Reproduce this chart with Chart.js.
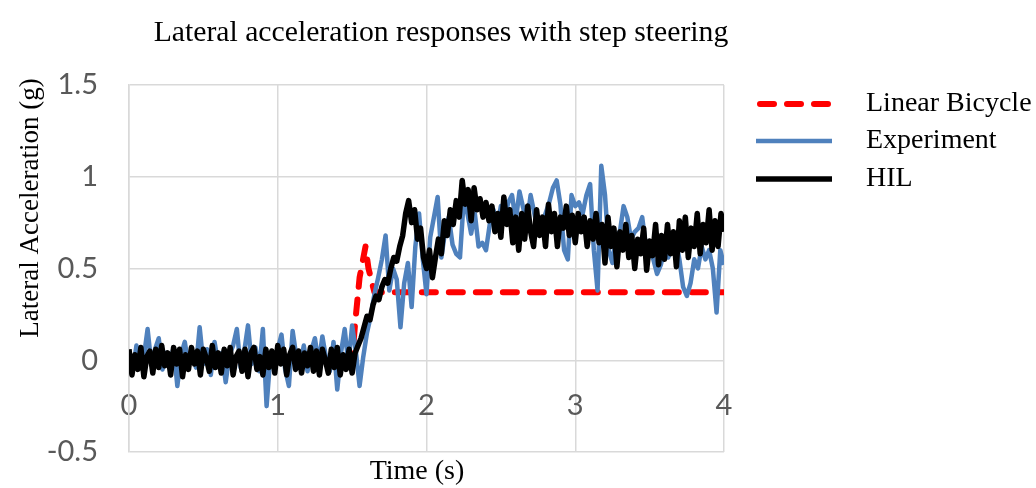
<!DOCTYPE html>
<html>
<head>
<meta charset="utf-8">
<script src="https://cdn.jsdelivr.net/npm/chart.js@4/dist/chart.umd.min.js"></script>
<style>
  html, body { margin: 0; padding: 0; background: #ffffff; }
  #wrap { width: 1036px; height: 488px; }
</style>
</head>
<body>
<div id="wrap"><canvas id="chart"></canvas></div>
<script>
// chart text
const TITLE = "Lateral acceleration responses with step steering";
const X_TITLE = "Time (s)";
const Y_TITLE = "Lateral Acceleration (g)";
const SERIES_NAMES = ["Linear Bicycle", "Experiment", "HIL"];

// linear bicycle model (time s, accel g)
const bicycleTime = [0, 1.5, 1.52, 1.55, 1.59, 1.61, 1.65, 4];
const bicycleAccel = [0, 0, 0.2, 0.45, 0.62, 0.5, 0.37, 0.37];

// experiment, sampled every 0.025 s from 0 to 4 s
const EXP_DT = 0.025;
const experimentAccel = [
    0.05, -0.06, 0.08, -0.03, 0.02, 0.17, -0.02, 0.06, 0.12, -0.05, 0.04, -0.02, 0.07, -0.14, 0.03, 0.1, -0.03, 0.05, -0.04, 0.18, -0.02,
    0.06, -0.08, 0.1, -0.02, 0.04, -0.12, 0.03, 0.08, 0.17, -0.04, 0.05, 0.19, -0.02, 0.07, -0.06, 0.17, -0.25, 0.02, -0.04, 0.06,
    0.14, -0.05, -0.14, 0.16, 0.02, -0.03, 0.08, -0.06, 0.05, 0.12, -0.02, 0.13, 0.01, -0.06, 0.1, -0.16, 0.04, 0.17, -0.02, 0.19,
    0.05, -0.14, 0.02, 0.15, 0.24, 0.36, 0.45, 0.55, 0.68, 0.38, 0.5, 0.44, 0.18, 0.42, 0.53, 0.29, 0.62, 0.8, 0.55, 0.36,
    0.67, 0.78, 0.89, 0.56, 0.7, 0.78, 0.63, 0.58, 0.56, 0.87, 0.8, 0.69, 0.8, 0.62, 0.64, 0.6, 0.74, 0.82, 0.72, 0.84,
    0.78, 0.86, 0.9, 0.76, 0.92, 0.83, 0.75, 0.9, 0.8, 0.7, 0.74, 0.8, 0.86, 0.94, 0.98, 0.85, 0.6, 0.55, 0.9, 0.84,
    0.86, 0.8, 0.9, 0.96, 0.6, 0.38, 1.06, 0.9, 0.6, 0.53, 0.68, 0.7, 0.84, 0.78, 0.66, 0.7, 0.72, 0.78, 0.62, 0.6,
    0.55, 0.47, 0.52, 0.6, 0.56, 0.62, 0.66, 0.55, 0.4, 0.35, 0.42, 0.55, 0.5, 0.62, 0.55, 0.6, 0.5, 0.26, 0.6, 0.52,
];

// hardware in the loop, sampled every 0.02 s from 0 to 4 s
const HIL_DT = 0.02;
const hilAccel = [
    0.06, -0.08, 0.03, -0.05, 0.07, -0.09, 0.02, 0.05, -0.07, 0.06, -0.04, 0.08, -0.03, 0.04, -0.08, 0.07, -0.02, 0.06, -0.09, 0.03,
    -0.05, 0.07, -0.02, 0.05, -0.08, 0.06, 0.01, -0.06, 0.08, -0.04, 0.04, -0.07, 0.06, -0.03, 0.07, -0.08, 0.02, 0.05, -0.06, 0.06,
    -0.09, 0.04, 0.07, -0.05, 0.02, -0.08, 0.06, -0.04, 0.05, -0.07, 0.08, -0.02, 0.06, -0.08, 0.03, 0.07, -0.05, 0.05, -0.07, 0.04,
    -0.03, 0.07, -0.06, 0.05, -0.08, 0.06, 0.0, -0.07, 0.06, -0.04, 0.07, -0.08, 0.03, -0.05, 0.06, -0.07, 0.04, 0.08, 0.12, 0.18,
    0.24, 0.22, 0.3, 0.35, 0.33, 0.4, 0.44, 0.42, 0.5, 0.56, 0.54, 0.62, 0.68, 0.8, 0.87, 0.75, 0.82, 0.66, 0.72, 0.56,
    0.5, 0.6, 0.45, 0.56, 0.66, 0.58, 0.76, 0.68, 0.82, 0.74, 0.87, 0.78, 0.98, 0.85, 0.93, 0.76, 0.94, 0.82, 0.88, 0.78,
    0.86, 0.76, 0.84, 0.7, 0.8, 0.67, 0.89, 0.74, 0.82, 0.64, 0.78, 0.6, 0.8, 0.66, 0.84, 0.7, 0.62, 0.82, 0.68, 0.78,
    0.62, 0.85, 0.7, 0.8, 0.62, 0.78, 0.72, 0.84, 0.68, 0.79, 0.64, 0.8, 0.7, 0.78, 0.62, 0.76, 0.66, 0.8, 0.64, 0.74,
    0.53, 0.78, 0.62, 0.72, 0.51, 0.7, 0.6, 0.74, 0.56, 0.68, 0.5, 0.66, 0.58, 0.72, 0.49, 0.65, 0.57, 0.74, 0.52, 0.68,
    0.55, 0.74, 0.58, 0.7, 0.51, 0.76, 0.6, 0.78, 0.56, 0.72, 0.62, 0.8, 0.58, 0.74, 0.64, 0.82, 0.6, 0.76, 0.62, 0.8, 0.7,
];

const COLORS = {
    bicycle: "#ff0000",
    experiment: "#4f81bd",
    hil: "#000000",
    grid: "#d9d9d9",
    tick: "#595959",
    text: "#000000",
};

const SERIF = "'Liberation Serif', 'DejaVu Serif', serif";
const SANS = "Lato, 'Open Sans', sans-serif";

const toPoints = (ys, dt) => ys.map((y, i) => ({ x: +(i * dt).toFixed(3), y }));

const DATASETS = [
    {
        label: SERIES_NAMES[0],
        data: bicycleTime.map((x, i) => ({ x, y: bicycleAccel[i] })),
        borderColor: COLORS.bicycle,
        borderWidth: 6,
        borderDash: [14, 13],
        borderCapStyle: "round",
        order: 3,
    },
    {
        label: SERIES_NAMES[1],
        data: toPoints(experimentAccel, EXP_DT),
        borderColor: COLORS.experiment,
        borderWidth: 4.5,
        order: 2,
    },
    {
        label: SERIES_NAMES[2],
        data: toPoints(hilAccel, HIL_DT),
        borderColor: COLORS.hil,
        borderWidth: 5.5,
        order: 1,
    },
];

// title, axis titles and legend drawn at the spots they take in the original
const textPlugin = {
    id: "textPlugin",
    afterDraw(chart) {
        const ctx = chart.ctx;
        ctx.save();
        ctx.fillStyle = COLORS.text;
        ctx.textBaseline = "middle";

        ctx.font = `29.7px ${SERIF}`;
        ctx.textAlign = "center";
        ctx.fillText(TITLE, 441, 33);

        ctx.font = `28px ${SERIF}`;
        ctx.fillText(X_TITLE, 417, 472);

        ctx.save();
        ctx.translate(31, 208);
        ctx.rotate(-Math.PI / 2);
        ctx.font = `27px ${SERIF}`;
        ctx.fillText(Y_TITLE, 0, 0);
        ctx.restore();

        // legend
        const rows = [104, 141, 179];
        ctx.textAlign = "left";
        ctx.font = `28px ${SERIF}`;
        DATASETS.forEach((ds, i) => {
            const y = rows[i];
            ctx.save();
            ctx.strokeStyle = ds.borderColor;
            ctx.lineWidth = ds.borderWidth;
            ctx.lineCap = ds.borderCapStyle || "butt";
            ctx.setLineDash(ds.borderDash || []);
            ctx.beginPath();
            ctx.moveTo(i === 0 ? 760 : 756, y);
            ctx.lineTo(832, y);
            ctx.stroke();
            ctx.restore();
            ctx.fillText(ds.label, 866, y);
        });
        ctx.restore();
    },
};

new Chart(document.getElementById("chart"), {
    type: "line",
    data: { datasets: DATASETS },
    plugins: [textPlugin],
    options: {
        responsive: true,
        maintainAspectRatio: false,
        animation: false,
        layout: { padding: { left: 0, top: 85, right: 312, bottom: 36 } },
        elements: {
            point: { radius: 0, hoverRadius: 0 },
            line: { tension: 0, borderJoinStyle: "round" },
        },
        plugins: {
            legend: { display: false },
            title: { display: false },
            tooltip: { enabled: false },
        },
        scales: {
            x: {
                type: "linear",
                position: { y: 0 },
                min: 0,
                max: 4,
                grid: { color: COLORS.grid, lineWidth: 1.5, drawTicks: false },
                border: { display: false },
                ticks: {
                    stepSize: 1,
                    padding: 28,
                    color: COLORS.tick,
                    font: { family: SANS, size: 29 },
                    maxRotation: 0,
                    callback: (v) => String(v),
                },
            },
            y: {
                min: -0.5,
                max: 1.5,
                afterFit: (scale) => {
                    scale.width = 129;
                    // the label gap is horizontal only, don't let it pad the plot vertically
                    scale.paddingTop = 0;
                    scale.paddingBottom = 0;
                },
                grid: { color: COLORS.grid, lineWidth: 1.5, drawTicks: false },
                border: { color: COLORS.grid, width: 1.5 },
                ticks: {
                    stepSize: 0.5,
                    padding: 31,
                    color: COLORS.tick,
                    font: { family: SANS, size: 29 },
                    callback: (v) => String(v),
                },
            },
        },
    },
});
</script>
</body>
</html>
